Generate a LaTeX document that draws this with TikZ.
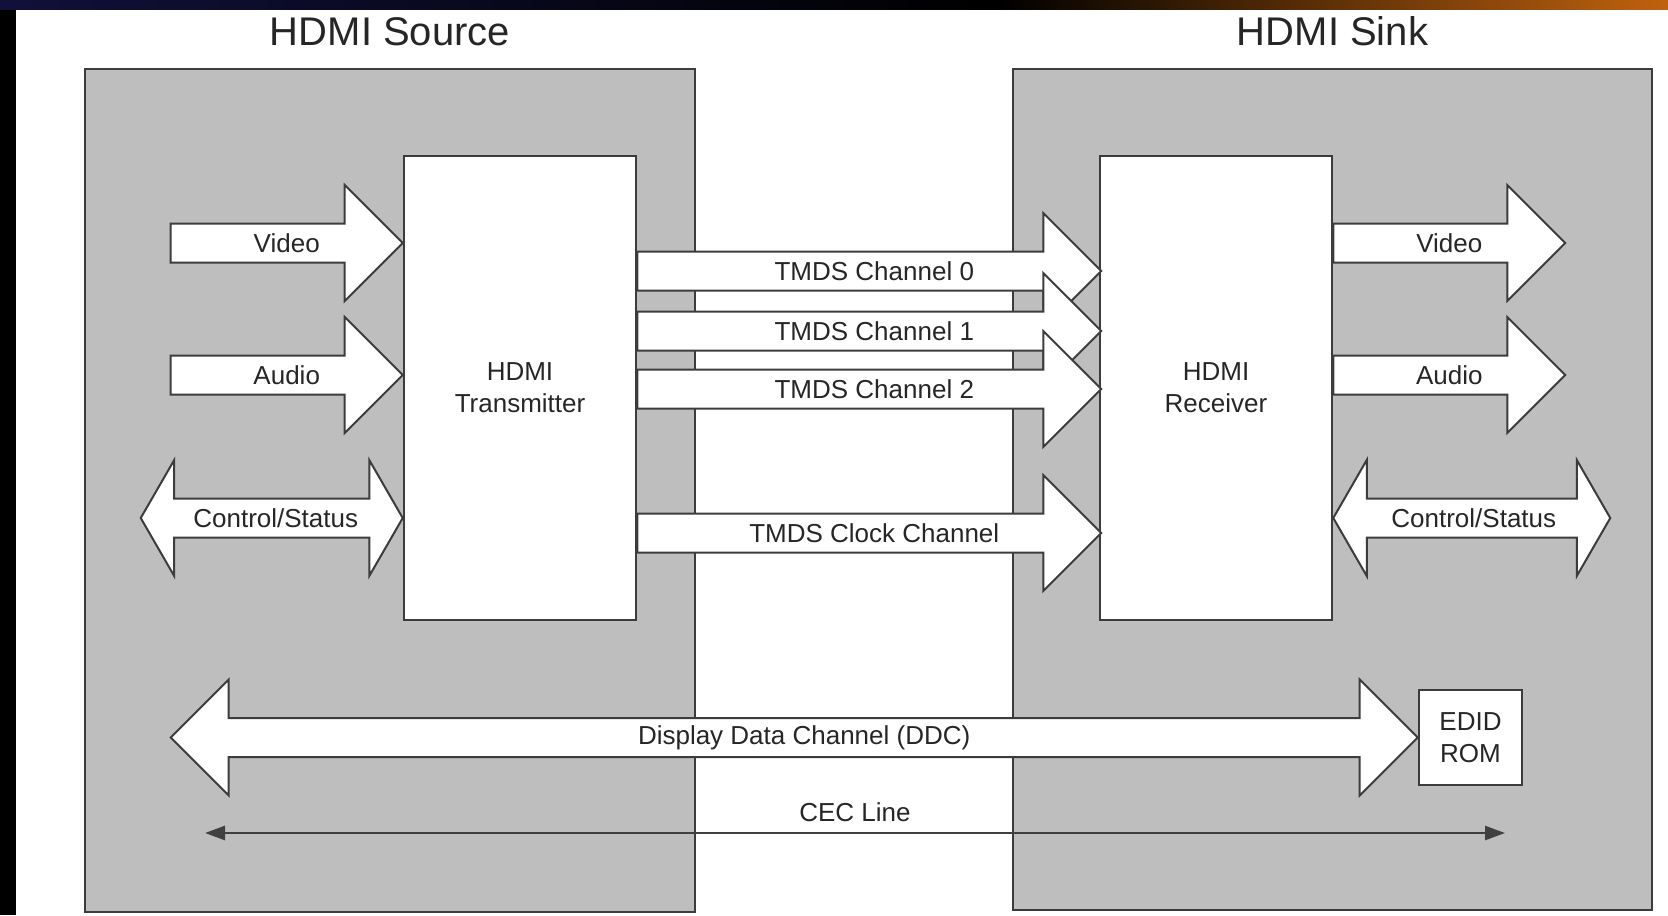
\documentclass[tikz,border=0pt]{standalone}
\usepackage{fontspec}
\setmainfont{Liberation Sans}
\usepackage{tikz}
\usetikzlibrary{shapes.arrows}
\usetikzlibrary{fit}
\usetikzlibrary{calc}
\usetikzlibrary{positioning}
\usetikzlibrary{arrows.meta}
\definecolor{boxgray}{HTML}{BEBEBE}
\definecolor{edge}{HTML}{3C3C3C}
\definecolor{bandnavy}{HTML}{10103A}
\definecolor{bandred}{HTML}{6A1028}
\definecolor{bandorange}{HTML}{C0620E}
\tikzset{
  lbl/.style = {font=\fontsize{13}{16}\selectfont, text=black!85},
  side/.style = {draw=edge, fill=boxgray, line width=1.25pt, inner sep=0pt},
  chip/.style = {side, fill=white},
  chiptext/.style = {lbl, align=center},
  arr/.style = {draw=edge, fill=white, line width=1pt, single arrow, single arrow tip angle=90,
                single arrow head extend=19.25pt, text height=9.5pt, text depth=0.5pt,
                inner ysep=4.25pt, inner xsep=0pt, outer sep=0pt},
  darr/.style = {arr, double arrow, double arrow tip angle=120, double arrow head extend=19.25pt},% petites pointes
  title/.style = {font=\fontsize{20}{24}\selectfont, inner sep=0pt, text=black!85},
  cec/.style = {draw=black!75, line width=1.3pt, arrows={Triangle[length=10pt,width=7pt]-Triangle[length=10pt,width=7pt]}}
}
\begin{document}
\begin{tikzpicture}[x=0.5pt, y=-0.5pt]
\useasboundingbox (0,0) rectangle (1668,915);
\fill[white] (0,0) rectangle (1668,915);
\fill[black] (0,0) rectangle (16,915);
\shade[left color=bandnavy, right color=black] (0,0) rectangle (1000,10);
\shade[left color=black, middle color=bandred, right color=bandorange] (1000,0) rectangle (1668,10);

\node [side, fit={(85,69) (695,912)}] (src) {};
\node [side, fit={(1013,69) (1652,910)}] (snk) {};
\node [title, above=10.5pt of src] (srct) {HDMI Source};
\node [title, above=10.5pt of snk] (snkt) {HDMI Sink};

\node [chip, fit={(404,156) (636,620)}] (tx) {};
\node [chip, fit={(1100,156) (1332,620)}] (rx) {};
\node [chip, fit={(1419,690) (1522,785)}] (edid) {};
\node [chiptext] (txt) at (tx) {HDMI\\Transmitter};
\node [chiptext] (rxt) at (rx) {HDMI\\Receiver};
\node [chiptext] (edidt) at (edid) {EDID\\ROM};

\node [arr, minimum height=116pt, anchor=east] (vin) at (tx.west |- 0,243) {};
\node [arr, minimum height=116pt, anchor=east] (ain) at (tx.west |- 0,375) {};
\node [darr, minimum height=131pt, anchor=east] (cin) at (tx.west |- 0,518) {};
\node [lbl] (vint) at ($(vin.west)!.5!(vin.east)$) {Video};
\node [lbl] (aint) at ($(ain.west)!.5!(ain.east)$) {Audio};
\node [lbl, xshift=2pt] (cint) at ($(cin.west)!.5!(cin.east)$) {Control/Status};

\node [arr, minimum height=232pt, anchor=west] (ch0) at (tx.east |- 0,271) {};
\node [lbl, xshift=2.5pt] (ch0t) at ($(ch0.west)!.5!(ch0.east)$) {TMDS Channel 0};
\node [arr, minimum height=232pt, anchor=west] (ch1) at (tx.east |- 0,331) {};
\node [lbl, xshift=2.5pt] (ch1t) at ($(ch1.west)!.5!(ch1.east)$) {TMDS Channel 1};
\node [arr, minimum height=232pt, anchor=west] (ch2) at (tx.east |- 0,389) {};
\node [lbl, xshift=2.5pt] (ch2t) at ($(ch2.west)!.5!(ch2.east)$) {TMDS Channel 2};
\node [arr, minimum height=232pt, anchor=west] (clk) at (tx.east |- 0,533) {};
\node [lbl, xshift=2.5pt] (clkt) at ($(clk.west)!.5!(clk.east)$) {TMDS Clock Channel};

\node [arr, minimum height=116pt, anchor=west] (vout) at (rx.east |- 0,243) {};
\node [arr, minimum height=116pt, anchor=west] (aout) at (rx.east |- 0,375) {};
\node [darr, minimum height=138.5pt, anchor=west] (cout) at (rx.east |- 0,518) {};
\node [lbl] (voutt) at ($(vout.west)!.5!(vout.east)$) {Video};
\node [lbl] (aoutt) at ($(aout.west)!.5!(aout.east)$) {Audio};
\node [lbl, xshift=1pt] (coutt) at ($(cout.west)!.5!(cout.east)$) {Control/Status};

\node [darr, double arrow tip angle=90, minimum height=623.5pt, anchor=east] (ddc) at (edid.west) {};
\node [lbl, xshift=5pt] (ddct) at ($(ddc.west)!.5!(ddc.east)$) {Display Data Channel (DDC)};

\coordinate (cecl) at (205,833);
\coordinate (cecr) at (1505,833);
\draw [cec] (cecl) -- (cecr) node[midway, above=5pt, lbl, inner sep=0pt] (cecn) {CEC Line};
\end{tikzpicture}
\end{document}
